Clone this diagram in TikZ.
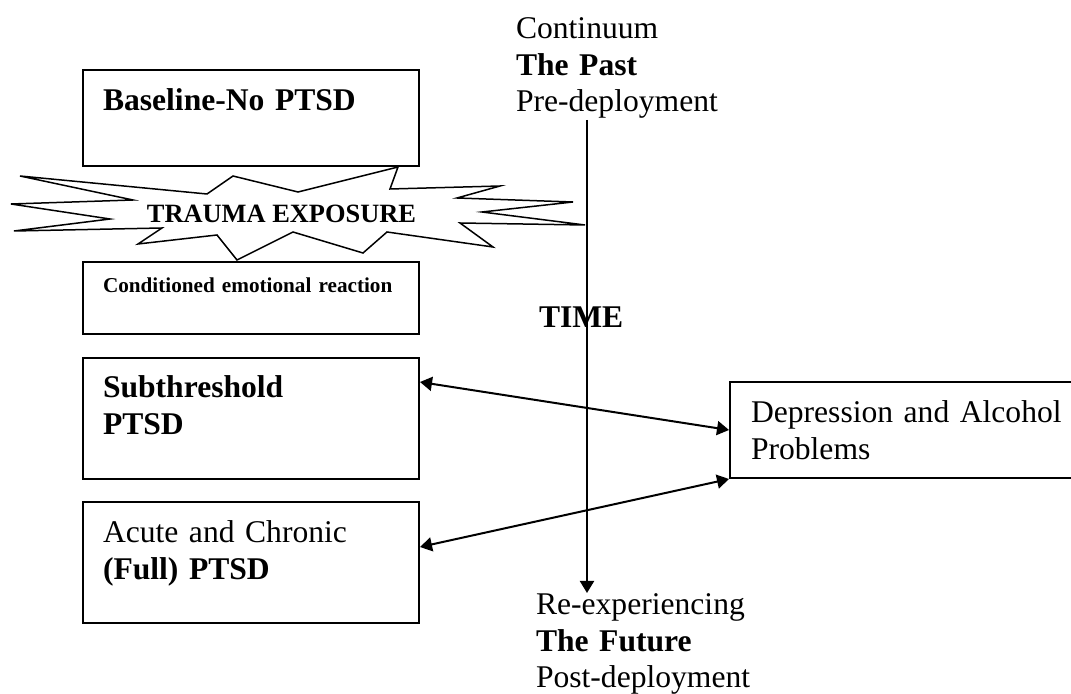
\documentclass[tikz,border=0pt]{standalone}
\usepackage{fontspec}
\setmainfont{Liberation Serif}
\usetikzlibrary{arrows.meta,positioning}

\begin{document}
\begin{tikzpicture}[x=0.5pt, y=-0.5pt, line width=1pt, >={Triangle[length=6pt,width=7pt]}]
    \tikzstyle{big}   = [font=\fontsize{15.8}{18.25}\selectfont]
    \tikzstyle{small} = [font=\fontsize{10.6}{12.5}\selectfont]
    \tikzstyle{box}   = [rectangle, draw, anchor=north west, align=left, inner xsep=10pt, inner ysep=0pt, text width=148pt]
    \tikzstyle{tag}   = [big, anchor=base west, align=left, inner sep=0pt, text width=110pt]

    \useasboundingbox (0,0) rectangle (1071,694);

    \node[box, big, text height=20.5pt, text depth=27.5pt]                      (base)  at (82,69) {\textbf{Baseline-No PTSD}};
    \node[box, small, text height=15.5pt, text depth=20.5pt, below=47pt of base] (cond)  {\textbf{Conditioned emotional reaction}};
    \node[box, big, text height=20pt, text depth=40.5pt, below=11pt of cond]     (sub)   {\textbf{Subthreshold}\\\textbf{PTSD}};
    \node[box, big, text height=20.5pt, text depth=40pt, below=10.5pt of sub]    (acute) {Acute and Chronic\\\textbf{(Full) PTSD}};
    \node[box, big, text height=20.5pt, text depth=27.5pt, text width=161.5pt, inner xsep=10.5pt] (dep) at (729,381) {Depression and Alcohol\\Problems};

    \draw[line width=0.75pt] (398,167) -- (390,189) -- (500,186) -- (457,198) -- (573,202) -- (482,212)
        -- (585,225) -- (460,223) -- (493,247) -- (387,232) -- (363,253) -- (293,232) -- (237,260)
        -- (217,235) -- (138,244) -- (162,228) -- (14,231) -- (110,219) -- (11,204) -- (133,200)
        -- (20,176) -- (207,194) -- (233,176) -- (298,192) -- cycle;
    \node[font=\fontsize{13.2}{15}\selectfont, anchor=base, inner sep=0pt] (trauma) at (281.5,223) {\textbf{TRAUMA EXPOSURE}};

    \node[tag] (past)   at (515,39)  {Continuum\\\textbf{The Past}\\Pre-deployment};
    \node[tag] (future) at (535,615) {Re-experiencing\\\textbf{The Future}\\Post-deployment};
    \node[big, anchor=base west, inner sep=0pt] (time) at (538,328) {\textbf{TIME}};

    \coordinate (tstart) at (587,120);
    \coordinate (tend)   at (587,593);
    \draw[->] (tstart) -- (tend);

    \draw[<->] ([yshift=-12.5pt]sub.north east) -- (dep.west);
    \draw[<->] ([yshift=-23pt]acute.north east) -- (dep.south west);
\end{tikzpicture}
\end{document}
